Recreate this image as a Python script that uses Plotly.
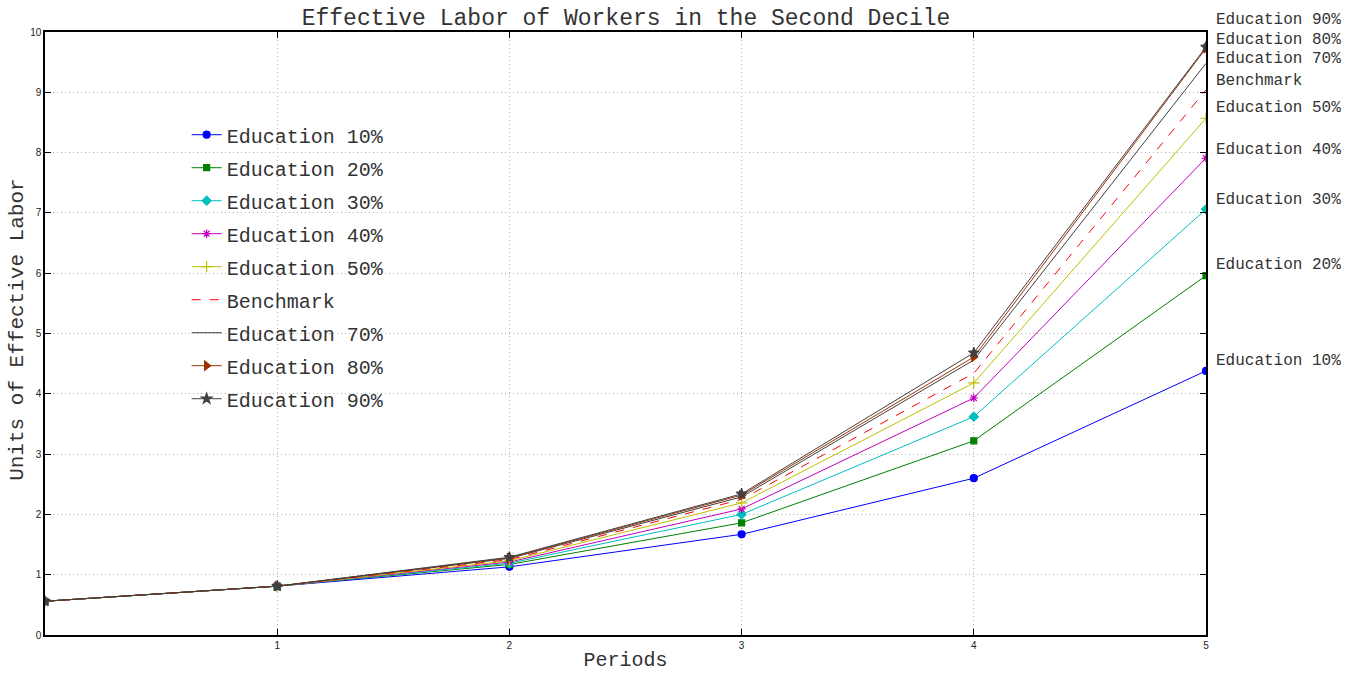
import plotly.graph_objects as go

# Periods on the horizontal axis
periods = [0, 1, 2, 3, 4, 5]

# Effective labor by education share (second decile)
edu_10 = [0.56, 0.81, 1.13, 1.67, 2.60, 4.38]
edu_20 = [0.56, 0.81, 1.17, 1.86, 3.22, 5.96]
edu_30 = [0.56, 0.81, 1.19, 2.00, 3.62, 7.06]
edu_40 = [0.56, 0.81, 1.21, 2.09, 3.93, 7.91]
edu_50 = [0.56, 0.81, 1.23, 2.19, 4.18, 8.57]
benchmark = [0.56, 0.81, 1.25, 2.25, 4.34, 9.04]
edu_70 = [0.56, 0.81, 1.27, 2.29, 4.56, 9.48]
edu_80 = [0.56, 0.81, 1.28, 2.32, 4.61, 9.73]
edu_90 = [0.56, 0.81, 1.29, 2.34, 4.68, 9.75]

series_names = ["Education 10%", "Education 20%", "Education 30%", "Education 40%",
                "Education 50%", "Benchmark", "Education 70%", "Education 80%",
                "Education 90%"]
series_values = [edu_10, edu_20, edu_30, edu_40, edu_50, benchmark, edu_70, edu_80, edu_90]

# Right-hand end labels and their vertical placement (in y units)
end_labels = ["Education 90%", "Education 80%", "Education 70%", "Benchmark",
              "Education 50%", "Education 40%", "Education 30%", "Education 20%",
              "Education 10%"]
end_label_y = [10.2, 9.87, 9.55, 9.19, 8.74, 8.05, 7.22, 6.14, 4.55]

y_ticks = [0, 1, 2, 3, 4, 5, 6, 7, 8, 9, 10]
x_ticks = [1, 2, 3, 4, 5]

X_MAX = 5
Y_MAX = 10

styles = [
    dict(color="#0000FF", dash="solid", symbol="circle", size=7),
    dict(color="#008000", dash="solid", symbol="square", size=6),
    dict(color="#00BFBF", dash="solid", symbol="diamond", size=7),
    dict(color="#BF00BF", dash="solid", symbol="asterisk-open", size=7),
    dict(color="#BFBF00", dash="solid", symbol="cross-thin-open", size=8),
    dict(color="#FF0000", dash="dash", symbol=None, size=0),
    dict(color="#404040", dash="solid", symbol=None, size=0),
    dict(color="#993300", dash="solid", symbol="triangle-right", size=8),
    dict(color="#404040", dash="solid", symbol="star", size=8),
]

mono = "Liberation Mono, Courier New, monospace"
text_gray = "#333333"

fig = go.Figure()
for i, (name, vals, st) in enumerate(zip(series_names, series_values, styles)):
    if st["symbol"] is None:
        mode = "lines"
        marker = None
    else:
        mode = "lines+markers"
        marker = dict(symbol=st["symbol"], size=st["size"], color=st["color"],
                      line=dict(color=st["color"], width=1.2))
    fig.add_trace(go.Scatter(
        x=periods, y=vals, name=name, mode=mode,
        line=dict(color=st["color"], width=1, dash=st["dash"]),
        marker=marker, legendgroup=f"g{i}",
    ))

# End labels placed just right of the plotting area
for lab, ly in zip(end_labels, end_label_y):
    fig.add_annotation(x=1.0068, y=ly / Y_MAX, xref="paper", yref="paper", text=lab,
                       showarrow=False, xanchor="left", yanchor="middle",
                       font=dict(family=mono, size=16, color=text_gray))

# Vertical axis title, set a little further from the tick labels
fig.add_annotation(x=-0.0233, y=0.506, xref="paper", yref="paper",
                   text="Units of Effective Labor", textangle=-90, showarrow=False,
                   xanchor="center", yanchor="middle",
                   font=dict(family=mono, size=21, color=text_gray))

axis_common = dict(
    showline=True, linecolor="black", linewidth=1.5, mirror="ticks",
    ticks="inside", ticklen=6, tickcolor="black",
    showgrid=True, gridcolor="#b0b0b0", gridwidth=1, griddash="1px,3px",
    zeroline=False, automargin=False,
    tickfont=dict(family="Liberation Sans, Arial, sans-serif", size=10, color="#222222"),
)

fig.update_xaxes(range=[0, X_MAX], tickvals=x_ticks, ticktext=[str(t) for t in x_ticks],
                 title=dict(text="Periods", font=dict(family=mono, size=20, color=text_gray),
                            standoff=2),
                 **axis_common)
fig.update_yaxes(range=[0, Y_MAX], tickvals=y_ticks, ticktext=[str(t) for t in y_ticks],
                 **axis_common)

fig.update_layout(
    width=1364, height=673,
    margin=dict(l=45, r=158, t=32, b=38),
    paper_bgcolor="white", plot_bgcolor="white",
    title=dict(text="Effective Labor of Workers in the Second Decile",
               font=dict(family=mono, size=23, color=text_gray),
               x=0.459, xanchor="center", y=0.975, yanchor="middle"),
    legend=dict(x=0.122, y=0.862, xanchor="left", yanchor="top",
                bgcolor="rgba(0,0,0,0)", borderwidth=0,
                font=dict(family=mono, size=20, color=text_gray),
                tracegroupgap=4, itemwidth=30),
    showlegend=True,
)

fig.write_html("out.html")
